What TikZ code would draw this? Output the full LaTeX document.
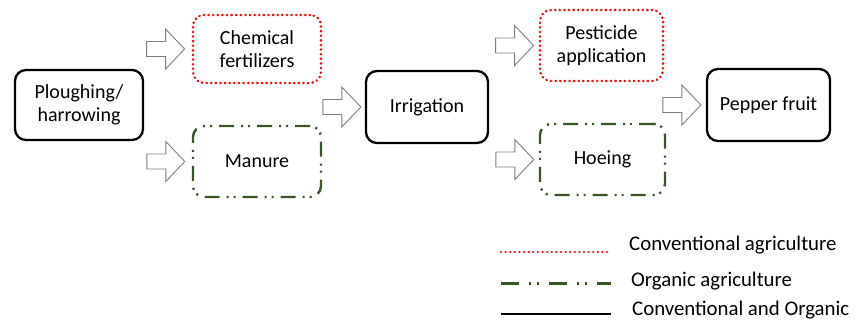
\documentclass[tikz,border=0pt]{standalone}
\usepackage{fontspec}
\setmainfont{Carlito}
\definecolor{orgGreen}{HTML}{375623}
\definecolor{convRed}{HTML}{FF0000}
\definecolor{arrGray}{HTML}{7F7F7F}
\begin{document}
\begin{tikzpicture}[x=1pt,y=-1pt,
  box/.style={rectangle, rounded corners=11pt, align=center, inner sep=2pt,
    font=\fontsize{20}{23}\selectfont, text=black},
  both/.style={box, draw=black, line width=2.3pt},
  conv/.style={box, draw=convRed, line width=2.8pt, line cap=round,
    dash pattern=on 0.01pt off 4.6pt},
  organic/.style={box, draw=orgGreen, line width=2.4pt,
    dash pattern=on 15pt off 7pt on 2pt off 5pt on 2pt off 7pt},
  arrowline/.style={draw=arrGray, fill=white, line width=0.9pt, line join=miter},
  barrow/.pic={\draw[arrowline] (0,-7.5) -- (19,-7.5) -- (19,-20) -- (38,0) -- (19,20) -- (19,7.5) -- (0,7.5) -- cycle;},
  legtext/.style={anchor=west, inner sep=0pt, font=\fontsize{20.8}{23}\selectfont}
]
\useasboundingbox (0,0) rectangle (860,322);
% process boxes
\node[both, minimum width=128pt, minimum height=70pt] (plough) at (79,105) {Ploughing/\\harrowing};
\node[conv, minimum width=128pt, minimum height=68pt] (chem) at (257,49) {Chemical\\fertilizers};
\node[organic, minimum width=128pt, minimum height=71pt] (manure) at (257,161.5) {Manure};
\node[both, minimum width=122pt, minimum height=72pt] (irrig) at (427,107) {Irrigation};
\node[conv, minimum width=123pt, minimum height=71pt] (pest) at (601.5,45.5) {Pesticide\\application};
\node[organic, minimum width=125pt, minimum height=71pt] (hoe) at (602.5,159.5) {Hoeing};
\node[both, minimum width=123pt, minimum height=72pt] (pepper) at (768.5,105) {Pepper fruit};
% block arrows
\pic at ([xshift=-45pt]chem.west) {barrow};
\pic at ([xshift=-45pt]manure.west) {barrow};
\pic at ([xshift=-42pt]irrig.west) {barrow};
\pic at ([xshift=-43pt]pest.west) {barrow};
\pic at ([xshift=-43pt]hoe.west) {barrow};
\pic at ([xshift=-43pt]pepper.west) {barrow};
% legend
\coordinate (l1a) at (501,252); \coordinate (l1b) at (611,252);
\coordinate (l2a) at (501,283); \coordinate (l2b) at (611,283);
\coordinate (l3a) at (501,314); \coordinate (l3b) at (611,314);
\draw[convRed, line width=2.8pt, line cap=round, dash pattern=on 0.01pt off 4.6pt] (l1a) -- (l1b);
\draw[orgGreen, line width=3pt, dash pattern=on 18pt off 10pt on 2pt off 6pt on 2pt off 10pt] (l2a) -- (l2b);
\draw[black, line width=2.5pt] (l3a) -- (l3b);
\node[legtext] (t1) at (629,245) {Conventional agriculture};
\node[legtext] (t2) at (631,281) {Organic agriculture};
\node[legtext] (t3) at (632,310) {Conventional and Organic};
\end{tikzpicture}
\end{document}
